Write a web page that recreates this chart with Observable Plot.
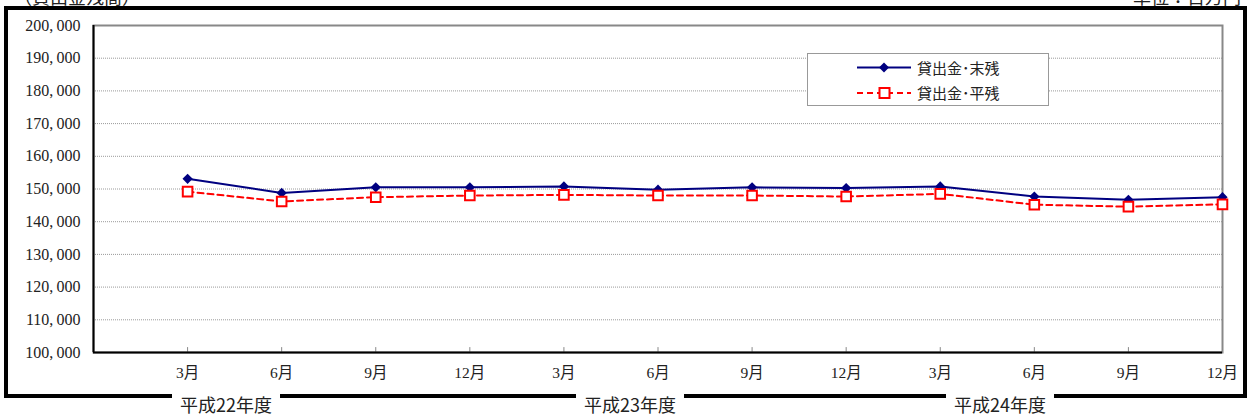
<!DOCTYPE html>
<html><head><meta charset="utf-8">
<script src="https://cdn.jsdelivr.net/npm/d3@7"></script>
<script src="https://cdn.jsdelivr.net/npm/@observablehq/plot@0.6"></script>
<style>
body{margin:0;background:#fff;}
#wrap{position:relative;width:1251px;height:417px;overflow:hidden;background:#fff;font-family:"Liberation Serif","Noto Sans CJK JP",serif;}
#wrap svg{position:absolute;left:0;top:0;}
.frame{position:absolute;left:4px;top:6px;width:1235px;height:384px;border:4px solid #000;}
.fy{position:absolute;top:394px;transform:translate(-50%,0);background:#fff;padding:0 8px;font-size:18px;line-height:20px;font-family:"Noto Sans CJK JP",sans-serif;color:#222;}
.top{position:absolute;top:-13px;font-size:18px;line-height:18px;font-family:"Noto Sans CJK JP",sans-serif;color:#222;}
.legend{position:absolute;left:807px;top:53px;width:240px;height:51px;border:1px solid #999;background:#fff;}
.legend svg{position:absolute;left:0;top:0;}
.lt{position:absolute;left:109px;font-size:15px;line-height:16px;font-family:"Noto Sans CJK JP",sans-serif;color:#222;}
</style></head><body><div id="wrap"></div>
<script>
const months = ["3月","6月","9月","12月","3月","6月","9月","12月","3月","6月","9月","12月"];
const endBalance = [153100,148800,150500,150500,150800,149800,150500,150300,150800,147700,146700,147500];
const avgBalance = [149200,146200,147500,148000,148200,148000,148000,147700,148500,145200,144600,145300];
const fiscalYears = ["平成22年度","平成23年度","平成24年度"];
const seriesNames = ["貸出金･末残","貸出金･平残"];
const unitLabel = "単位：百万円";
const titleLabel = "（貸出金残高）";
const yTicks = d3.range(100000, 200001, 10000);

const idx = months.map((m, i) => i + 1);
const endData = idx.map((x, i) => ({x, v: endBalance[i]}));
const avgData = idx.map((x, i) => ({x, v: avgBalance[i]}));
const fmt = d => d3.format(",")(d).replace(",", ",\u2009");

const wrap = document.getElementById("wrap");
const fr = document.createElement("div"); fr.className = "frame"; wrap.appendChild(fr);

const chart = Plot.plot({
  width: 1251, height: 417,
  marginLeft: 93, marginRight: 29, marginTop: 25, marginBottom: 65,
  style: {fontFamily: '"Liberation Serif","Noto Sans CJK JP",serif', fontSize: "14px", background: "transparent", color: "#222"},
  x: {domain: [0, 12], axis: null},
  y: {domain: [100000, 200000], axis: null},
  marks: [
    Plot.gridY(yTicks.slice(1, -1), {stroke: "#9a9a9a", strokeOpacity: 1, strokeDasharray: "1,1"}),
    Plot.ruleX(idx, {y1: 100000, y2: 101500, stroke: "#888"}),
    Plot.axisY(yTicks, {tickSize: 0, tickPadding: 13, tickFormat: fmt, fontSize: 16, letterSpacing: "0.9px", label: null}),
    Plot.axisX(idx, {tickSize: 0, tickPadding: 14, tickFormat: i => months[i - 1], fontSize: 15.5, label: null}),
    Plot.frame({stroke: "#888", strokeWidth: 2}),
    Plot.ruleY([100000], {stroke: "#000", strokeWidth: 2}),
    Plot.ruleX([0], {stroke: "#000", strokeWidth: 2}),
    Plot.line(avgData, {x: "x", y: "v", stroke: "#ff0000", strokeWidth: 2, strokeDasharray: "6,4"}),
    Plot.line(endData, {x: "x", y: "v", stroke: "#000080", strokeWidth: 2}),
    Plot.dot(endData, {x: "x", y: "v", symbol: "diamond2", fill: "#000080", r: 4.6}),
    Plot.dot(avgData, {x: "x", y: "v", symbol: "square", fill: "#fff", stroke: "#ff0000", strokeWidth: 2, r: 5.4})
  ]
});
wrap.appendChild(chart);

const fyCenters = [226, 630, 1000];
fiscalYears.forEach((t, i) => {
  const d = document.createElement("div"); d.className = "fy"; d.textContent = t;
  d.style.left = fyCenters[i] + "px"; wrap.appendChild(d);
});
const t1 = document.createElement("div"); t1.className = "top"; t1.textContent = titleLabel; t1.style.left = "14px"; wrap.appendChild(t1);
const t2 = document.createElement("div"); t2.className = "top"; t2.textContent = unitLabel; t2.style.left = "1133px"; wrap.appendChild(t2);

const lg = document.createElement("div"); lg.className = "legend";
lg.innerHTML = `<svg width="240" height="51">
<line x1="49" x2="103" y1="13.5" y2="13.5" stroke="#000080" stroke-width="2"/>
<path d="M76,8.5 L81,13.5 L76,18.5 L71,13.5 Z" fill="#000080"/>
<line x1="49" x2="103" y1="39" y2="39" stroke="#ff0000" stroke-width="2" stroke-dasharray="6,4"/>
<rect x="71.5" y="34" width="10" height="10" fill="#fff" stroke="#ff0000" stroke-width="2"/>
</svg>`;
seriesNames.forEach((n, i) => {
  const s = document.createElement("div"); s.className = "lt"; s.textContent = n;
  s.style.top = (i === 0 ? 6 : 31) + "px"; lg.appendChild(s);
});
wrap.appendChild(lg);
</script></body></html>
